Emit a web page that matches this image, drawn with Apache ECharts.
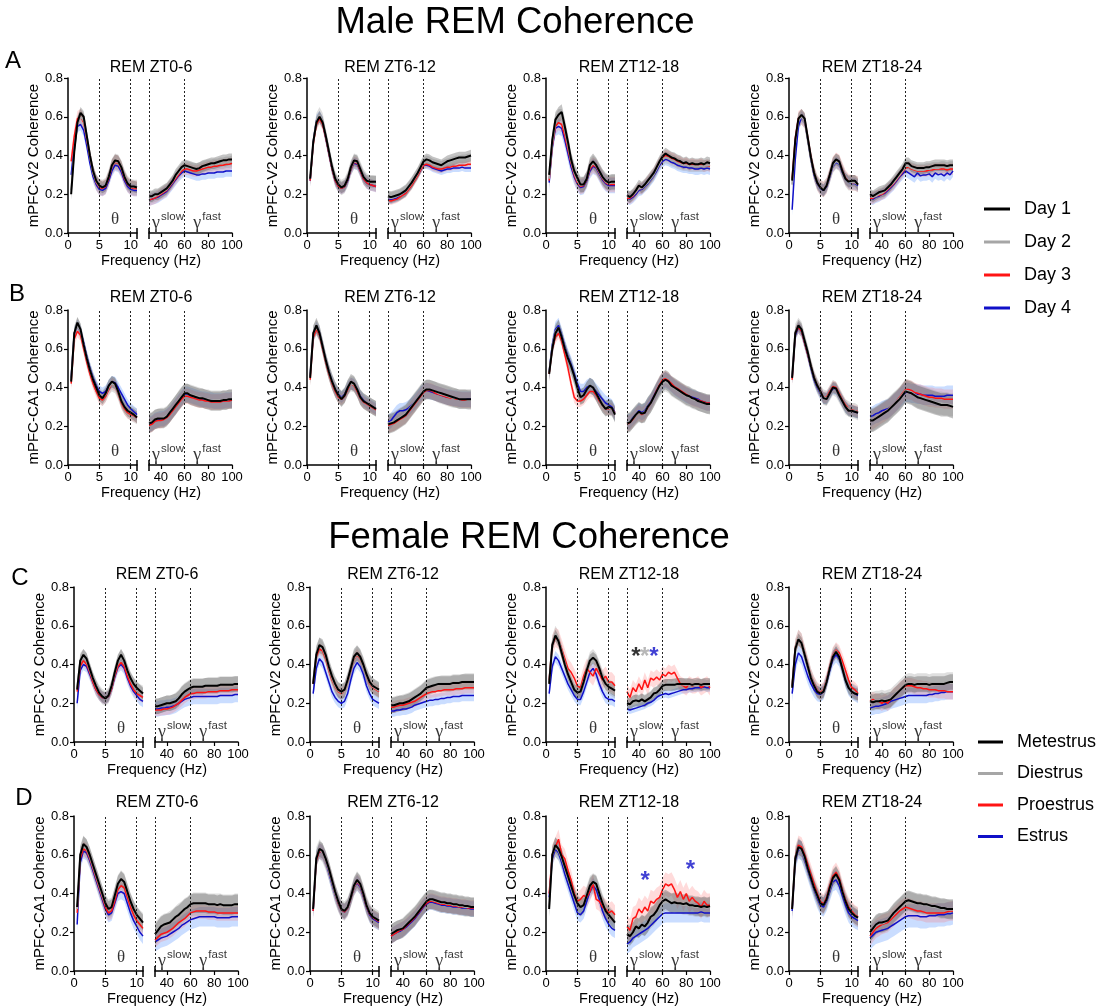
<!DOCTYPE html>
<html>
<head>
<meta charset="utf-8">
<script src="https://cdn.jsdelivr.net/npm/echarts@6/dist/echarts.min.js"></script>
<style>
  html, body { margin: 0; padding: 0; background: #ffffff; }
  #chart { width: 1097px; height: 1007px; }
</style>
</head>
<body>
<div id="chart"></div>
<script>
// ---- frequency bins (Hz) for the two axis segments ----
const FREQ_LOW = [0.5,1,1.5,2,2.5,3,3.5,4,4.5,5,5.5,6,6.5,7,7.5,8,8.5,9,9.5,10,10.5,11];
const FREQ_HIGH = [30,32.5,35,37.5,40,42.5,45,47.5,50,52.5,55,57.5,60,62.5,65,67.5,70,72.5,75,77.5,80,82.5,85,87.5,90,92.5,95,97.5,100];

const LOW_TICKS = [0, 5, 10];
const HIGH_TICKS = [40, 60, 80, 100];
const Y_TICK_STEP = 0.2;

const PANEL_TITLES = ['REM ZT0-6', 'REM ZT6-12', 'REM ZT12-18', 'REM ZT18-24'];
const ROW_LETTERS = ['A', 'B', 'C', 'D'];
const ROW_Y_NAMES = ['mPFC-V2 Coherence', 'mPFC-CA1 Coherence', 'mPFC-V2 Coherence', 'mPFC-CA1 Coherence'];
const MALE_GROUPS = ['Day 1', 'Day 2', 'Day 3', 'Day 4'];
const FEMALE_GROUPS = ['Metestrus', 'Diestrus', 'Proestrus', 'Estrus'];

// ---- A: male mPFC-V2 ----
const a1BlackLo = [0.20,0.42,0.57,0.62,0.60,0.50,0.40,0.32,0.27,0.245,0.235,0.245,0.29,0.35,0.375,0.37,0.34,0.29,0.255,0.24,0.24,0.235];
const a1GreyLo  = [0.22,0.43,0.56,0.60,0.58,0.49,0.39,0.31,0.265,0.24,0.235,0.245,0.29,0.345,0.37,0.365,0.335,0.29,0.255,0.24,0.235,0.235];
const a1RedLo   = [0.37,0.50,0.59,0.60,0.57,0.48,0.39,0.31,0.26,0.235,0.23,0.24,0.28,0.34,0.365,0.36,0.33,0.28,0.25,0.235,0.23,0.23];
const a1BlueLo  = [0.30,0.45,0.55,0.56,0.53,0.45,0.36,0.29,0.25,0.225,0.22,0.23,0.27,0.32,0.35,0.345,0.315,0.27,0.24,0.225,0.22,0.22];
const a1BlackHi = [0.19,0.19,0.20,0.20,0.21,0.22,0.23,0.25,0.27,0.30,0.32,0.34,0.35,0.345,0.34,0.335,0.33,0.335,0.345,0.35,0.355,0.36,0.36,0.365,0.37,0.375,0.375,0.38,0.38];
const a1GreyHi  = [0.18,0.185,0.19,0.195,0.205,0.215,0.225,0.245,0.265,0.29,0.31,0.33,0.34,0.34,0.335,0.33,0.33,0.335,0.34,0.345,0.35,0.35,0.355,0.355,0.36,0.36,0.365,0.365,0.37];
const a1RedHi   = [0.17,0.175,0.18,0.19,0.20,0.21,0.22,0.24,0.26,0.28,0.30,0.32,0.33,0.33,0.325,0.32,0.32,0.325,0.33,0.335,0.34,0.34,0.345,0.345,0.35,0.35,0.355,0.355,0.36];
const a1BlueHi  = [0.17,0.175,0.18,0.185,0.195,0.205,0.215,0.235,0.255,0.275,0.295,0.31,0.32,0.315,0.31,0.305,0.30,0.30,0.305,0.305,0.31,0.31,0.31,0.315,0.315,0.315,0.32,0.32,0.32];
const a1SemLo = [0.03,0.04,0.04,0.03];
const a1SemHi = [0.03,0.03,0.03,0.03];

const a2BlackLo = [0.28,0.47,0.57,0.60,0.57,0.50,0.42,0.34,0.28,0.25,0.235,0.245,0.28,0.34,0.375,0.37,0.33,0.29,0.27,0.265,0.265,0.265];
const a2GreyLo  = [0.28,0.47,0.58,0.61,0.58,0.50,0.42,0.34,0.28,0.25,0.235,0.245,0.28,0.335,0.37,0.365,0.33,0.29,0.27,0.26,0.26,0.255];
const a2RedLo   = [0.27,0.46,0.56,0.59,0.56,0.49,0.41,0.33,0.27,0.24,0.23,0.24,0.275,0.33,0.365,0.36,0.32,0.28,0.26,0.25,0.245,0.24];
const a2BlueLo  = [0.27,0.47,0.58,0.60,0.57,0.49,0.41,0.33,0.27,0.24,0.23,0.24,0.27,0.33,0.36,0.355,0.32,0.28,0.26,0.25,0.245,0.24];
const a2BlackHi = [0.19,0.185,0.19,0.195,0.20,0.21,0.22,0.24,0.26,0.285,0.31,0.34,0.37,0.38,0.375,0.365,0.36,0.355,0.35,0.36,0.37,0.375,0.38,0.385,0.39,0.39,0.39,0.395,0.40];
const a2GreyHi  = [0.185,0.18,0.185,0.19,0.195,0.205,0.215,0.235,0.255,0.28,0.305,0.335,0.36,0.37,0.365,0.355,0.35,0.345,0.34,0.35,0.355,0.36,0.365,0.37,0.37,0.375,0.375,0.38,0.38];
const a2RedHi   = [0.17,0.165,0.17,0.175,0.185,0.195,0.205,0.225,0.245,0.27,0.295,0.325,0.35,0.355,0.35,0.34,0.335,0.33,0.33,0.335,0.34,0.34,0.345,0.345,0.35,0.35,0.35,0.355,0.355];
const a2BlueHi  = [0.175,0.17,0.175,0.18,0.19,0.20,0.21,0.23,0.25,0.275,0.30,0.325,0.35,0.35,0.345,0.335,0.33,0.325,0.32,0.325,0.33,0.33,0.335,0.335,0.335,0.34,0.335,0.335,0.335];
const a2SemLo = [0.03,0.04,0.03,0.03];
const a2SemHi = [0.03,0.03,0.02,0.02];

const a3BlackLo = [0.30,0.48,0.585,0.61,0.625,0.55,0.47,0.38,0.32,0.285,0.25,0.25,0.28,0.35,0.37,0.35,0.32,0.29,0.27,0.26,0.265,0.265];
const a3GreyLo  = [0.28,0.46,0.57,0.60,0.60,0.53,0.45,0.37,0.31,0.27,0.245,0.25,0.28,0.34,0.36,0.345,0.315,0.285,0.265,0.255,0.26,0.26];
const a3RedLo   = [0.27,0.45,0.55,0.57,0.56,0.50,0.43,0.36,0.30,0.26,0.24,0.245,0.275,0.33,0.35,0.34,0.31,0.28,0.26,0.25,0.25,0.25];
const a3BlueLo  = [0.26,0.44,0.54,0.55,0.54,0.48,0.41,0.34,0.29,0.255,0.235,0.24,0.27,0.32,0.345,0.335,0.305,0.275,0.255,0.245,0.245,0.245];
const a3BlackHi = [0.195,0.185,0.20,0.22,0.245,0.235,0.25,0.27,0.29,0.31,0.34,0.37,0.395,0.41,0.40,0.39,0.385,0.375,0.37,0.36,0.365,0.355,0.36,0.355,0.355,0.36,0.355,0.365,0.36];
const a3GreyHi  = [0.19,0.185,0.195,0.21,0.23,0.23,0.245,0.26,0.28,0.30,0.33,0.36,0.38,0.39,0.385,0.375,0.37,0.36,0.355,0.35,0.35,0.345,0.345,0.345,0.345,0.345,0.345,0.35,0.35];
const a3RedHi   = [0.18,0.18,0.19,0.21,0.23,0.23,0.245,0.265,0.285,0.305,0.335,0.36,0.385,0.40,0.395,0.385,0.38,0.37,0.365,0.355,0.36,0.35,0.355,0.35,0.35,0.355,0.345,0.35,0.345];
const a3BlueHi  = [0.18,0.175,0.185,0.20,0.22,0.225,0.24,0.255,0.275,0.295,0.32,0.35,0.37,0.38,0.375,0.365,0.36,0.35,0.345,0.34,0.34,0.335,0.335,0.33,0.33,0.335,0.33,0.335,0.33];
const a3SemLo = [0.04,0.04,0.04,0.04];
const a3SemHi = [0.03,0.03,0.03,0.03];

const a4BlackLo = [0.27,0.48,0.59,0.61,0.59,0.49,0.39,0.31,0.26,0.235,0.22,0.245,0.30,0.36,0.38,0.37,0.32,0.28,0.265,0.27,0.27,0.25];
const a4GreyLo  = [0.25,0.47,0.58,0.60,0.58,0.48,0.38,0.31,0.26,0.235,0.225,0.245,0.295,0.35,0.37,0.36,0.32,0.28,0.26,0.26,0.26,0.25];
const a4RedLo   = [0.28,0.49,0.59,0.60,0.58,0.49,0.39,0.31,0.26,0.235,0.225,0.245,0.30,0.355,0.375,0.365,0.325,0.285,0.265,0.26,0.26,0.25];
const a4BlueLo  = [0.12,0.38,0.55,0.60,0.58,0.48,0.38,0.30,0.255,0.23,0.22,0.24,0.29,0.345,0.365,0.355,0.315,0.28,0.26,0.255,0.255,0.245];
const a4BlackHi = [0.20,0.19,0.20,0.21,0.215,0.22,0.235,0.25,0.27,0.29,0.31,0.33,0.36,0.36,0.345,0.34,0.335,0.335,0.335,0.34,0.34,0.345,0.35,0.35,0.35,0.35,0.345,0.35,0.35];
const a4GreyHi  = [0.19,0.185,0.19,0.20,0.205,0.215,0.23,0.245,0.26,0.28,0.30,0.32,0.345,0.345,0.335,0.33,0.325,0.325,0.325,0.33,0.33,0.335,0.335,0.335,0.34,0.34,0.335,0.34,0.34];
const a4RedHi   = [0.18,0.18,0.19,0.195,0.20,0.21,0.225,0.24,0.255,0.275,0.295,0.315,0.335,0.34,0.33,0.325,0.32,0.32,0.32,0.32,0.325,0.325,0.33,0.33,0.33,0.33,0.325,0.33,0.33];
const a4BlueHi  = [0.18,0.175,0.185,0.19,0.20,0.205,0.22,0.235,0.25,0.27,0.29,0.305,0.32,0.31,0.30,0.29,0.31,0.295,0.30,0.30,0.305,0.29,0.31,0.30,0.305,0.295,0.31,0.30,0.32];
const a4SemLo = [0.03,0.04,0.04,0.03];
const a4SemHi = [0.03,0.03,0.03,0.03];

// ---- B: male mPFC-CA1 ----
const b1BlackLo = [0.43,0.68,0.735,0.70,0.62,0.55,0.49,0.44,0.40,0.36,0.345,0.37,0.41,0.43,0.42,0.38,0.33,0.30,0.28,0.27,0.26,0.245];
const b1GreyLo  = [0.44,0.68,0.72,0.69,0.62,0.55,0.49,0.44,0.40,0.36,0.345,0.365,0.40,0.42,0.41,0.375,0.33,0.30,0.28,0.27,0.26,0.25];
const b1RedLo   = [0.42,0.65,0.69,0.67,0.60,0.53,0.47,0.42,0.38,0.345,0.335,0.355,0.39,0.42,0.41,0.37,0.32,0.29,0.27,0.26,0.255,0.245];
const b1BlueLo  = [0.45,0.68,0.72,0.69,0.63,0.56,0.50,0.45,0.41,0.38,0.37,0.38,0.41,0.43,0.425,0.40,0.37,0.34,0.31,0.29,0.275,0.26];
const b1BlackHi = [0.215,0.22,0.235,0.24,0.24,0.24,0.25,0.27,0.29,0.31,0.33,0.35,0.37,0.37,0.36,0.355,0.35,0.345,0.345,0.34,0.335,0.33,0.33,0.33,0.33,0.335,0.335,0.34,0.34];
const b1GreyHi  = [0.22,0.225,0.235,0.24,0.245,0.245,0.255,0.27,0.29,0.31,0.335,0.355,0.37,0.37,0.365,0.36,0.355,0.35,0.345,0.34,0.34,0.335,0.335,0.335,0.335,0.335,0.335,0.34,0.34];
const b1RedHi   = [0.205,0.21,0.225,0.23,0.23,0.235,0.245,0.26,0.28,0.30,0.32,0.34,0.355,0.355,0.35,0.345,0.34,0.335,0.335,0.33,0.33,0.325,0.325,0.325,0.325,0.33,0.33,0.33,0.335];
const b1BlueHi  = [0.21,0.215,0.23,0.235,0.24,0.24,0.25,0.265,0.285,0.305,0.325,0.345,0.365,0.365,0.36,0.355,0.35,0.345,0.34,0.34,0.335,0.335,0.33,0.33,0.33,0.33,0.335,0.335,0.335];
const b1SemLo = [0.03,0.04,0.03,0.03];
const b1SemHi = [0.05,0.05,0.04,0.04];

const b2BlackLo = [0.45,0.68,0.72,0.68,0.61,0.54,0.48,0.43,0.39,0.36,0.34,0.36,0.40,0.43,0.42,0.39,0.35,0.33,0.32,0.31,0.30,0.29];
const b2GreyLo  = [0.46,0.68,0.71,0.68,0.61,0.54,0.48,0.43,0.39,0.36,0.345,0.36,0.40,0.42,0.415,0.39,0.35,0.33,0.32,0.31,0.30,0.29];
const b2RedLo   = [0.44,0.66,0.70,0.67,0.60,0.53,0.47,0.42,0.38,0.35,0.34,0.355,0.39,0.42,0.41,0.38,0.345,0.325,0.315,0.305,0.295,0.285];
const b2BlueLo  = [0.46,0.67,0.71,0.68,0.61,0.54,0.48,0.43,0.39,0.365,0.35,0.365,0.40,0.42,0.415,0.39,0.355,0.335,0.32,0.31,0.30,0.29];
const b2BlackHi = [0.21,0.215,0.22,0.23,0.24,0.25,0.26,0.28,0.30,0.32,0.34,0.36,0.38,0.39,0.39,0.385,0.38,0.375,0.37,0.365,0.36,0.355,0.35,0.345,0.34,0.34,0.34,0.34,0.34];
const b2GreyHi  = [0.215,0.22,0.225,0.235,0.245,0.255,0.265,0.285,0.305,0.325,0.345,0.365,0.385,0.39,0.39,0.385,0.38,0.37,0.365,0.36,0.355,0.35,0.345,0.345,0.34,0.34,0.34,0.335,0.335];
const b2RedHi   = [0.205,0.21,0.215,0.225,0.235,0.245,0.255,0.275,0.295,0.315,0.335,0.355,0.375,0.385,0.385,0.38,0.37,0.365,0.36,0.355,0.35,0.345,0.345,0.34,0.34,0.335,0.335,0.335,0.335];
const b2BlueHi  = [0.22,0.23,0.25,0.27,0.28,0.28,0.285,0.295,0.31,0.325,0.345,0.365,0.38,0.385,0.38,0.375,0.37,0.365,0.36,0.355,0.35,0.35,0.345,0.345,0.34,0.34,0.34,0.34,0.34];
const b2SemLo = [0.04,0.04,0.03,0.03];
const b2SemHi = [0.05,0.05,0.04,0.04];

const b3BlackLo = [0.47,0.60,0.68,0.71,0.66,0.60,0.55,0.51,0.46,0.40,0.35,0.36,0.39,0.41,0.40,0.37,0.34,0.31,0.29,0.30,0.295,0.26];
const b3GreyLo  = [0.48,0.61,0.69,0.71,0.66,0.60,0.55,0.50,0.45,0.39,0.355,0.36,0.39,0.41,0.40,0.37,0.34,0.31,0.295,0.295,0.29,0.265];
const b3RedLo   = [0.47,0.60,0.66,0.68,0.64,0.57,0.50,0.42,0.35,0.33,0.33,0.34,0.36,0.38,0.38,0.36,0.33,0.31,0.29,0.29,0.29,0.27];
const b3BlueLo  = [0.48,0.62,0.70,0.72,0.67,0.61,0.56,0.52,0.47,0.42,0.38,0.38,0.40,0.41,0.40,0.38,0.36,0.34,0.32,0.31,0.30,0.27];
const b3BlackHi = [0.215,0.22,0.24,0.26,0.275,0.265,0.27,0.30,0.32,0.35,0.38,0.41,0.43,0.44,0.43,0.41,0.40,0.39,0.38,0.37,0.36,0.355,0.345,0.34,0.33,0.325,0.32,0.315,0.315];
const b3GreyHi  = [0.22,0.225,0.24,0.255,0.27,0.265,0.275,0.30,0.32,0.345,0.375,0.40,0.42,0.43,0.42,0.405,0.395,0.385,0.375,0.365,0.355,0.35,0.34,0.335,0.33,0.325,0.32,0.315,0.31];
const b3RedHi   = [0.21,0.22,0.235,0.255,0.27,0.26,0.27,0.295,0.32,0.35,0.385,0.415,0.44,0.445,0.435,0.42,0.405,0.395,0.385,0.375,0.365,0.355,0.345,0.34,0.335,0.33,0.325,0.32,0.32];
const b3BlueHi  = [0.22,0.225,0.245,0.26,0.28,0.27,0.28,0.305,0.325,0.355,0.385,0.41,0.43,0.44,0.43,0.415,0.40,0.39,0.38,0.37,0.36,0.355,0.35,0.345,0.34,0.33,0.325,0.32,0.32];
const b3SemLo = [0.04,0.04,0.03,0.04];
const b3SemHi = [0.05,0.05,0.04,0.04];

const b4BlackLo = [0.45,0.68,0.72,0.70,0.64,0.58,0.51,0.45,0.41,0.38,0.345,0.34,0.37,0.40,0.395,0.36,0.33,0.30,0.28,0.28,0.275,0.27];
const b4GreyLo  = [0.46,0.69,0.72,0.70,0.64,0.58,0.51,0.45,0.41,0.375,0.35,0.345,0.37,0.40,0.39,0.36,0.33,0.30,0.29,0.28,0.28,0.27];
const b4RedLo   = [0.44,0.68,0.71,0.69,0.63,0.57,0.51,0.45,0.41,0.38,0.35,0.35,0.38,0.405,0.40,0.37,0.335,0.31,0.29,0.285,0.28,0.275];
const b4BlueLo  = [0.45,0.67,0.71,0.69,0.63,0.57,0.50,0.44,0.40,0.37,0.345,0.345,0.37,0.395,0.39,0.36,0.33,0.30,0.285,0.28,0.275,0.27];
const b4BlackHi = [0.23,0.23,0.24,0.25,0.26,0.27,0.28,0.295,0.31,0.325,0.34,0.36,0.38,0.375,0.37,0.36,0.35,0.345,0.34,0.335,0.33,0.325,0.32,0.315,0.31,0.31,0.31,0.305,0.30];
const b4GreyHi  = [0.23,0.235,0.245,0.255,0.265,0.275,0.285,0.30,0.315,0.33,0.345,0.365,0.385,0.38,0.375,0.365,0.355,0.35,0.345,0.34,0.335,0.33,0.325,0.32,0.32,0.315,0.315,0.31,0.31];
const b4RedHi   = [0.23,0.235,0.245,0.255,0.265,0.275,0.285,0.30,0.315,0.33,0.35,0.37,0.39,0.39,0.385,0.375,0.37,0.365,0.36,0.355,0.35,0.35,0.345,0.345,0.345,0.34,0.34,0.34,0.34];
const b4BlueHi  = [0.25,0.255,0.265,0.27,0.28,0.285,0.29,0.30,0.315,0.33,0.345,0.36,0.375,0.375,0.37,0.37,0.365,0.365,0.36,0.36,0.36,0.36,0.355,0.355,0.355,0.355,0.36,0.36,0.36];
const b4SemLo = [0.03,0.04,0.03,0.03];
const b4SemHi = [0.06,0.06,0.05,0.05];

// ---- C: female mPFC-V2 ----
const c1BlackLo = [0.27,0.42,0.45,0.43,0.38,0.33,0.29,0.255,0.235,0.225,0.24,0.29,0.36,0.42,0.45,0.42,0.37,0.33,0.30,0.28,0.265,0.25];
const c1GreyLo  = [0.28,0.42,0.44,0.42,0.37,0.325,0.285,0.255,0.235,0.225,0.24,0.285,0.355,0.41,0.44,0.415,0.365,0.325,0.295,0.275,0.26,0.25];
const c1RedLo   = [0.26,0.39,0.42,0.40,0.36,0.31,0.27,0.245,0.23,0.225,0.235,0.275,0.34,0.39,0.41,0.39,0.34,0.30,0.27,0.25,0.24,0.23];
const c1BlueLo  = [0.20,0.37,0.40,0.39,0.35,0.31,0.27,0.245,0.23,0.225,0.235,0.275,0.335,0.385,0.40,0.38,0.33,0.29,0.26,0.24,0.22,0.21];
const c1BlackHi = [0.185,0.185,0.19,0.195,0.20,0.20,0.205,0.21,0.225,0.245,0.26,0.27,0.28,0.285,0.285,0.285,0.285,0.29,0.29,0.29,0.29,0.29,0.295,0.295,0.295,0.295,0.295,0.30,0.30];
const c1GreyHi  = [0.185,0.185,0.19,0.195,0.20,0.20,0.205,0.215,0.23,0.25,0.265,0.275,0.285,0.29,0.29,0.29,0.29,0.29,0.295,0.295,0.295,0.295,0.30,0.30,0.30,0.30,0.30,0.30,0.30];
const c1RedHi   = [0.165,0.165,0.165,0.17,0.17,0.175,0.18,0.19,0.20,0.215,0.23,0.24,0.25,0.25,0.255,0.255,0.255,0.255,0.26,0.26,0.26,0.26,0.265,0.265,0.265,0.265,0.27,0.27,0.27];
const c1BlueHi  = [0.17,0.17,0.175,0.175,0.18,0.18,0.185,0.19,0.20,0.21,0.22,0.225,0.23,0.235,0.235,0.235,0.235,0.235,0.235,0.235,0.235,0.235,0.24,0.24,0.24,0.24,0.24,0.245,0.245];
const c1SemLo = [0.03,0.04,0.03,0.03];
const c1SemHi = [0.04,0.04,0.03,0.04];

const c2BlackLo = [0.30,0.45,0.50,0.49,0.45,0.39,0.34,0.30,0.27,0.26,0.27,0.32,0.38,0.44,0.46,0.44,0.40,0.35,0.31,0.29,0.28,0.27];
const c2GreyLo  = [0.31,0.46,0.50,0.48,0.44,0.38,0.33,0.29,0.265,0.255,0.265,0.31,0.375,0.43,0.455,0.435,0.39,0.34,0.305,0.285,0.275,0.265];
const c2RedLo   = [0.30,0.44,0.48,0.47,0.43,0.37,0.32,0.285,0.26,0.25,0.265,0.31,0.37,0.425,0.45,0.43,0.39,0.34,0.30,0.28,0.27,0.26];
const c2BlueLo  = [0.25,0.38,0.43,0.41,0.36,0.31,0.26,0.23,0.21,0.20,0.21,0.25,0.32,0.38,0.41,0.39,0.35,0.29,0.25,0.22,0.21,0.20];
const c2BlackHi = [0.19,0.19,0.195,0.20,0.20,0.205,0.21,0.22,0.23,0.24,0.25,0.265,0.28,0.285,0.29,0.295,0.30,0.30,0.30,0.30,0.30,0.305,0.305,0.305,0.31,0.31,0.31,0.31,0.31];
const c2GreyHi  = [0.19,0.195,0.20,0.20,0.205,0.21,0.215,0.225,0.235,0.245,0.255,0.27,0.285,0.29,0.295,0.30,0.30,0.305,0.305,0.305,0.305,0.31,0.31,0.31,0.31,0.315,0.315,0.315,0.315];
const c2RedHi   = [0.18,0.18,0.185,0.19,0.19,0.195,0.20,0.205,0.21,0.22,0.23,0.24,0.25,0.255,0.26,0.26,0.265,0.265,0.27,0.27,0.27,0.27,0.275,0.275,0.275,0.28,0.28,0.28,0.28];
const c2BlueHi  = [0.16,0.16,0.165,0.165,0.17,0.17,0.175,0.18,0.19,0.195,0.20,0.205,0.21,0.215,0.215,0.22,0.22,0.225,0.225,0.23,0.23,0.235,0.235,0.235,0.24,0.24,0.24,0.24,0.24];
const c2SemLo = [0.04,0.04,0.03,0.03];
const c2SemHi = [0.04,0.04,0.03,0.03];

const c3BlackLo = [0.30,0.50,0.55,0.52,0.46,0.40,0.35,0.31,0.27,0.255,0.26,0.31,0.37,0.42,0.435,0.42,0.38,0.33,0.30,0.285,0.275,0.265];
const c3GreyLo  = [0.31,0.51,0.56,0.53,0.47,0.41,0.355,0.31,0.275,0.26,0.265,0.315,0.375,0.425,0.44,0.42,0.38,0.335,0.30,0.285,0.275,0.265];
const c3RedLo   = [0.32,0.50,0.54,0.53,0.48,0.43,0.38,0.36,0.33,0.29,0.28,0.34,0.38,0.36,0.34,0.38,0.35,0.32,0.34,0.31,0.31,0.29];
const c3BlueLo  = [0.25,0.39,0.44,0.42,0.38,0.34,0.30,0.27,0.24,0.22,0.22,0.26,0.31,0.36,0.38,0.35,0.30,0.26,0.23,0.22,0.22,0.21];
const c3BlackHi = [0.20,0.195,0.21,0.215,0.21,0.22,0.21,0.22,0.23,0.25,0.255,0.27,0.29,0.295,0.295,0.295,0.295,0.30,0.30,0.30,0.30,0.30,0.295,0.30,0.30,0.295,0.30,0.30,0.30];
const c3GreyHi  = [0.20,0.20,0.21,0.215,0.215,0.22,0.215,0.225,0.235,0.25,0.26,0.275,0.29,0.295,0.295,0.295,0.30,0.30,0.30,0.295,0.295,0.295,0.295,0.29,0.295,0.295,0.295,0.29,0.295];
const c3RedHi   = [0.26,0.23,0.28,0.26,0.30,0.27,0.32,0.28,0.33,0.32,0.335,0.32,0.35,0.34,0.36,0.35,0.36,0.33,0.30,0.29,0.28,0.30,0.29,0.29,0.30,0.28,0.29,0.30,0.28];
const c3BlueHi  = [0.17,0.165,0.17,0.175,0.18,0.185,0.19,0.20,0.205,0.215,0.23,0.24,0.245,0.25,0.245,0.25,0.255,0.26,0.265,0.27,0.27,0.275,0.275,0.28,0.28,0.28,0.285,0.28,0.28];
const c3SemLo = [0.03,0.04,0.05,0.03];
const c3SemHi = [0.03,0.03,0.04,0.02];

const c4BlackLo = [0.28,0.48,0.53,0.51,0.45,0.39,0.33,0.29,0.26,0.25,0.26,0.31,0.38,0.44,0.465,0.44,0.38,0.32,0.28,0.26,0.25,0.245];
const c4GreyLo  = [0.29,0.49,0.54,0.52,0.46,0.40,0.34,0.295,0.265,0.25,0.265,0.315,0.385,0.445,0.47,0.445,0.385,0.325,0.285,0.265,0.255,0.245];
const c4RedLo   = [0.29,0.49,0.54,0.52,0.46,0.40,0.34,0.30,0.27,0.255,0.27,0.32,0.39,0.45,0.475,0.46,0.42,0.37,0.32,0.28,0.27,0.25];
const c4BlueLo  = [0.25,0.40,0.46,0.44,0.39,0.34,0.30,0.27,0.25,0.245,0.26,0.31,0.37,0.43,0.45,0.43,0.38,0.32,0.28,0.26,0.25,0.24];
const c4BlackHi = [0.21,0.205,0.21,0.21,0.215,0.21,0.215,0.22,0.235,0.25,0.265,0.28,0.295,0.30,0.30,0.295,0.30,0.30,0.30,0.30,0.295,0.30,0.30,0.30,0.30,0.30,0.305,0.31,0.31];
const c4GreyHi  = [0.21,0.21,0.215,0.215,0.22,0.215,0.22,0.225,0.24,0.255,0.27,0.285,0.30,0.305,0.305,0.30,0.305,0.305,0.305,0.305,0.30,0.305,0.305,0.305,0.305,0.305,0.31,0.31,0.31];
const c4RedHi   = [0.21,0.22,0.21,0.21,0.20,0.21,0.20,0.22,0.24,0.25,0.27,0.28,0.29,0.29,0.29,0.285,0.28,0.28,0.275,0.275,0.27,0.27,0.27,0.265,0.265,0.265,0.26,0.26,0.26];
const c4BlueHi  = [0.175,0.18,0.185,0.185,0.19,0.195,0.20,0.21,0.215,0.22,0.225,0.23,0.235,0.24,0.24,0.24,0.24,0.24,0.24,0.24,0.245,0.245,0.25,0.25,0.255,0.255,0.26,0.26,0.26];
const c4SemLo = [0.03,0.04,0.04,0.04];
const c4SemHi = [0.04,0.05,0.04,0.04];

// ---- D: female mPFC-CA1 ----
const d1BlackLo = [0.33,0.60,0.655,0.64,0.60,0.55,0.50,0.45,0.40,0.35,0.32,0.33,0.39,0.45,0.475,0.46,0.41,0.36,0.32,0.29,0.27,0.25];
const d1GreyLo  = [0.32,0.60,0.65,0.63,0.59,0.54,0.49,0.44,0.39,0.345,0.32,0.33,0.385,0.445,0.47,0.455,0.405,0.355,0.315,0.285,0.265,0.25];
const d1RedLo   = [0.30,0.58,0.63,0.62,0.58,0.53,0.48,0.43,0.38,0.33,0.30,0.31,0.36,0.42,0.44,0.43,0.38,0.33,0.29,0.26,0.24,0.22];
const d1BlueLo  = [0.24,0.56,0.62,0.61,0.57,0.52,0.47,0.42,0.37,0.32,0.29,0.30,0.35,0.40,0.41,0.40,0.35,0.30,0.26,0.23,0.20,0.18];
const d1BlackHi = [0.19,0.21,0.23,0.24,0.245,0.25,0.265,0.28,0.29,0.305,0.32,0.33,0.345,0.35,0.35,0.35,0.35,0.35,0.345,0.345,0.345,0.34,0.345,0.34,0.34,0.34,0.34,0.345,0.345];
const d1GreyHi  = [0.19,0.21,0.225,0.235,0.24,0.25,0.26,0.275,0.29,0.30,0.315,0.325,0.34,0.345,0.345,0.345,0.345,0.345,0.34,0.34,0.34,0.34,0.34,0.335,0.335,0.335,0.335,0.34,0.34];
const d1RedHi   = [0.16,0.175,0.19,0.195,0.20,0.21,0.22,0.235,0.25,0.26,0.27,0.285,0.30,0.305,0.31,0.31,0.31,0.31,0.305,0.305,0.305,0.30,0.30,0.30,0.30,0.30,0.30,0.30,0.30];
const d1BlueHi  = [0.15,0.16,0.17,0.175,0.18,0.19,0.20,0.21,0.22,0.235,0.245,0.255,0.265,0.27,0.275,0.28,0.28,0.28,0.28,0.28,0.28,0.275,0.275,0.275,0.275,0.275,0.28,0.28,0.28];
const d1SemLo = [0.04,0.05,0.04,0.04];
const d1SemHi = [0.05,0.06,0.04,0.05];

const d2BlackLo = [0.32,0.58,0.63,0.62,0.58,0.53,0.47,0.41,0.36,0.32,0.31,0.33,0.38,0.44,0.47,0.45,0.40,0.34,0.30,0.28,0.27,0.26];
const d2GreyLo  = [0.33,0.59,0.63,0.61,0.57,0.52,0.46,0.40,0.355,0.32,0.31,0.33,0.38,0.435,0.465,0.445,0.395,0.34,0.30,0.28,0.27,0.26];
const d2RedLo   = [0.31,0.57,0.62,0.61,0.57,0.52,0.46,0.40,0.35,0.315,0.305,0.325,0.375,0.43,0.46,0.44,0.39,0.335,0.295,0.275,0.265,0.255];
const d2BlueLo  = [0.31,0.58,0.62,0.61,0.57,0.51,0.45,0.395,0.35,0.315,0.305,0.325,0.375,0.43,0.455,0.435,0.385,0.33,0.29,0.27,0.26,0.25];
const d2BlackHi = [0.19,0.20,0.21,0.215,0.22,0.235,0.25,0.265,0.28,0.30,0.32,0.34,0.36,0.37,0.37,0.365,0.36,0.355,0.355,0.35,0.35,0.345,0.345,0.34,0.34,0.335,0.335,0.33,0.33];
const d2GreyHi  = [0.19,0.20,0.21,0.215,0.225,0.24,0.255,0.27,0.285,0.305,0.325,0.345,0.36,0.37,0.365,0.36,0.355,0.35,0.35,0.345,0.345,0.34,0.34,0.335,0.335,0.33,0.33,0.33,0.33];
const d2RedHi   = [0.18,0.19,0.20,0.21,0.215,0.23,0.245,0.26,0.275,0.295,0.315,0.335,0.35,0.36,0.36,0.355,0.35,0.345,0.345,0.34,0.34,0.335,0.335,0.33,0.33,0.33,0.325,0.325,0.325];
const d2BlueHi  = [0.18,0.19,0.20,0.205,0.215,0.225,0.24,0.255,0.27,0.29,0.31,0.33,0.345,0.355,0.355,0.35,0.345,0.34,0.34,0.335,0.335,0.33,0.33,0.33,0.325,0.325,0.325,0.32,0.32];
const d2SemLo = [0.04,0.05,0.04,0.04];
const d2SemHi = [0.05,0.05,0.04,0.04];

const d3BlackLo = [0.32,0.60,0.65,0.63,0.59,0.54,0.49,0.44,0.39,0.35,0.33,0.34,0.39,0.44,0.46,0.45,0.40,0.35,0.31,0.29,0.27,0.25];
const d3GreyLo  = [0.33,0.60,0.64,0.62,0.58,0.53,0.48,0.43,0.385,0.345,0.33,0.34,0.39,0.44,0.455,0.445,0.40,0.35,0.31,0.29,0.27,0.255];
const d3RedLo   = [0.40,0.60,0.64,0.68,0.60,0.58,0.52,0.47,0.40,0.36,0.37,0.39,0.38,0.41,0.45,0.37,0.36,0.33,0.32,0.30,0.31,0.29];
const d3BlueLo  = [0.38,0.58,0.63,0.61,0.56,0.50,0.45,0.40,0.35,0.30,0.29,0.31,0.36,0.41,0.44,0.42,0.37,0.31,0.27,0.24,0.22,0.21];
const d3BlackHi = [0.19,0.18,0.20,0.23,0.22,0.24,0.23,0.25,0.28,0.29,0.31,0.34,0.36,0.37,0.36,0.35,0.355,0.35,0.35,0.345,0.35,0.34,0.34,0.335,0.335,0.33,0.335,0.33,0.335];
const d3GreyHi  = [0.19,0.19,0.20,0.22,0.225,0.235,0.235,0.25,0.27,0.285,0.305,0.33,0.35,0.36,0.355,0.35,0.35,0.345,0.345,0.34,0.34,0.335,0.335,0.33,0.33,0.33,0.33,0.325,0.33];
const d3RedHi   = [0.23,0.21,0.27,0.28,0.32,0.30,0.33,0.31,0.36,0.35,0.37,0.38,0.42,0.45,0.44,0.45,0.42,0.38,0.41,0.37,0.40,0.36,0.38,0.36,0.35,0.33,0.36,0.34,0.34];
const d3BlueHi  = [0.14,0.15,0.17,0.18,0.19,0.20,0.21,0.22,0.235,0.25,0.265,0.28,0.295,0.30,0.30,0.30,0.30,0.30,0.30,0.30,0.30,0.30,0.30,0.30,0.30,0.305,0.30,0.30,0.30];
const d3SemLo = [0.04,0.05,0.05,0.04];
const d3SemHi = [0.05,0.05,0.06,0.05];

const d4BlackLo = [0.32,0.58,0.64,0.63,0.59,0.53,0.48,0.43,0.39,0.35,0.34,0.37,0.43,0.48,0.50,0.47,0.41,0.36,0.32,0.30,0.285,0.275];
const d4GreyLo  = [0.33,0.59,0.64,0.62,0.58,0.53,0.48,0.43,0.385,0.35,0.34,0.37,0.42,0.475,0.495,0.465,0.41,0.36,0.32,0.30,0.285,0.275];
const d4RedLo   = [0.32,0.59,0.65,0.64,0.60,0.55,0.50,0.45,0.40,0.36,0.345,0.38,0.44,0.49,0.51,0.48,0.42,0.37,0.33,0.31,0.29,0.28];
const d4BlueLo  = [0.31,0.57,0.63,0.62,0.57,0.52,0.47,0.42,0.375,0.34,0.33,0.36,0.41,0.46,0.47,0.44,0.39,0.34,0.30,0.28,0.27,0.26];
const d4BlackHi = [0.20,0.22,0.24,0.25,0.25,0.255,0.26,0.28,0.30,0.315,0.33,0.345,0.36,0.365,0.36,0.355,0.35,0.35,0.345,0.345,0.34,0.335,0.335,0.33,0.325,0.325,0.32,0.32,0.32];
const d4GreyHi  = [0.20,0.215,0.235,0.245,0.245,0.25,0.26,0.275,0.295,0.31,0.325,0.34,0.355,0.36,0.355,0.35,0.345,0.345,0.34,0.34,0.335,0.33,0.33,0.325,0.32,0.32,0.32,0.315,0.315];
const d4RedHi   = [0.18,0.20,0.22,0.23,0.24,0.245,0.25,0.265,0.28,0.295,0.31,0.32,0.33,0.325,0.32,0.315,0.31,0.31,0.305,0.30,0.30,0.30,0.30,0.30,0.30,0.30,0.305,0.31,0.31];
const d4BlueHi  = [0.17,0.185,0.20,0.205,0.21,0.215,0.22,0.23,0.24,0.25,0.26,0.27,0.28,0.285,0.285,0.285,0.285,0.28,0.28,0.28,0.285,0.285,0.285,0.29,0.29,0.29,0.295,0.295,0.30];
const d4SemLo = [0.04,0.05,0.05,0.05];
const d4SemHi = [0.05,0.05,0.05,0.06];

// significance markers: [frequency, coherence] and colour index
const C3_STARS = [[37.6, 0.435], [44.9, 0.435], [52.7, 0.435]];
const C3_STAR_GROUPS = [0, 1, 3];
const D3_STARS = [[45.4, 0.462], [83.5, 0.517]];
const D3_STAR_GROUPS = [3, 3];

// band annotations
const THETA_LABEL_AT = [7.5, 0.068];
const GAMMA_SLOW_AT = [46, 0.052];
const GAMMA_FAST_AT = [79, 0.052];

// ---------------------------------------------------------------------
const panels = [
  { row: 0, col: 0, lo: [a1BlackLo, a1GreyLo, a1RedLo, a1BlueLo], hi: [a1BlackHi, a1GreyHi, a1RedHi, a1BlueHi], semLo: a1SemLo, semHi: a1SemHi },
  { row: 0, col: 1, lo: [a2BlackLo, a2GreyLo, a2RedLo, a2BlueLo], hi: [a2BlackHi, a2GreyHi, a2RedHi, a2BlueHi], semLo: a2SemLo, semHi: a2SemHi },
  { row: 0, col: 2, lo: [a3BlackLo, a3GreyLo, a3RedLo, a3BlueLo], hi: [a3BlackHi, a3GreyHi, a3RedHi, a3BlueHi], semLo: a3SemLo, semHi: a3SemHi },
  { row: 0, col: 3, lo: [a4BlackLo, a4GreyLo, a4RedLo, a4BlueLo], hi: [a4BlackHi, a4GreyHi, a4RedHi, a4BlueHi], semLo: a4SemLo, semHi: a4SemHi },
  { row: 1, col: 0, lo: [b1BlackLo, b1GreyLo, b1RedLo, b1BlueLo], hi: [b1BlackHi, b1GreyHi, b1RedHi, b1BlueHi], semLo: b1SemLo, semHi: b1SemHi },
  { row: 1, col: 1, lo: [b2BlackLo, b2GreyLo, b2RedLo, b2BlueLo], hi: [b2BlackHi, b2GreyHi, b2RedHi, b2BlueHi], semLo: b2SemLo, semHi: b2SemHi },
  { row: 1, col: 2, lo: [b3BlackLo, b3GreyLo, b3RedLo, b3BlueLo], hi: [b3BlackHi, b3GreyHi, b3RedHi, b3BlueHi], semLo: b3SemLo, semHi: b3SemHi },
  { row: 1, col: 3, lo: [b4BlackLo, b4GreyLo, b4RedLo, b4BlueLo], hi: [b4BlackHi, b4GreyHi, b4RedHi, b4BlueHi], semLo: b4SemLo, semHi: b4SemHi },
  { row: 2, col: 0, lo: [c1BlackLo, c1GreyLo, c1RedLo, c1BlueLo], hi: [c1BlackHi, c1GreyHi, c1RedHi, c1BlueHi], semLo: c1SemLo, semHi: c1SemHi },
  { row: 2, col: 1, lo: [c2BlackLo, c2GreyLo, c2RedLo, c2BlueLo], hi: [c2BlackHi, c2GreyHi, c2RedHi, c2BlueHi], semLo: c2SemLo, semHi: c2SemHi },
  { row: 2, col: 2, lo: [c3BlackLo, c3GreyLo, c3RedLo, c3BlueLo], hi: [c3BlackHi, c3GreyHi, c3RedHi, c3BlueHi], semLo: c3SemLo, semHi: c3SemHi, stars: C3_STARS, starGroups: C3_STAR_GROUPS },
  { row: 2, col: 3, lo: [c4BlackLo, c4GreyLo, c4RedLo, c4BlueLo], hi: [c4BlackHi, c4GreyHi, c4RedHi, c4BlueHi], semLo: c4SemLo, semHi: c4SemHi },
  { row: 3, col: 0, lo: [d1BlackLo, d1GreyLo, d1RedLo, d1BlueLo], hi: [d1BlackHi, d1GreyHi, d1RedHi, d1BlueHi], semLo: d1SemLo, semHi: d1SemHi },
  { row: 3, col: 1, lo: [d2BlackLo, d2GreyLo, d2RedLo, d2BlueLo], hi: [d2BlackHi, d2GreyHi, d2RedHi, d2BlueHi], semLo: d2SemLo, semHi: d2SemHi },
  { row: 3, col: 2, lo: [d3BlackLo, d3GreyLo, d3RedLo, d3BlueLo], hi: [d3BlackHi, d3GreyHi, d3RedHi, d3BlueHi], semLo: d3SemLo, semHi: d3SemHi, stars: D3_STARS, starGroups: D3_STAR_GROUPS },
  { row: 3, col: 3, lo: [d4BlackLo, d4GreyLo, d4RedLo, d4BlueLo], hi: [d4BlackHi, d4GreyHi, d4RedHi, d4BlueHi], semLo: d4SemLo, semHi: d4SemHi }
];

// ---- layout ----
const SANS = '"Liberation Sans", Arial, sans-serif';
const SERIF = '"Liberation Serif", "DejaVu Serif", serif';
const GRID_TOP = [78, 310, 587, 816];
const GRID_H = 155;
const COL_X = [[68, 307, 546, 789], [68, 307, 546, 789], [74, 310, 546, 789], [74, 310, 546, 789]];
const LO_W = 69, HI_OFF = 81, HI_W = 83;
const TITLE_Y = [68, 298, 575, 803];
const LETTER_POS = [[13, 61], [17, 294], [20, 578], [24, 798]];

const LINE_COLORS = ['#000000', '#a6a6a6', '#ff1414', '#1010c8'];
const BAND_COLORS = ['rgba(60,60,60,0.30)', 'rgba(150,150,150,0.30)', 'rgba(255,105,105,0.24)', 'rgba(90,150,255,0.32)'];
const LINE_WIDTHS = [2, 1.8, 1.5, 1.5];
const DRAW_ORDER = [3, 2, 1, 0];

const grid = [], xAxis = [], yAxis = [], series = [], graphic = [];

function bandSeries(gi, freqs, vals, sem, fill) {
  const n = Math.min(freqs.length, vals.length);
  const data = [];
  for (let i = 0; i < n; i++) data.push([freqs[i], vals[i] - sem, vals[i] + sem]);
  return {
    type: 'custom', xAxisIndex: gi, yAxisIndex: gi, silent: true, z: 1,
    data,
    renderItem(params, api) {
      if (params.dataIndex !== 0) return null;
      const upper = data.map(d => api.coord([d[0], d[2]]));
      const lower = data.map(d => api.coord([d[0], d[1]])).reverse();
      return { type: 'polygon', shape: { points: upper.concat(lower) }, style: { fill } };
    }
  };
}

function breakMark(gi, at) {
  return {
    type: 'custom', xAxisIndex: gi, yAxisIndex: gi, silent: true, z: 6, clip: false,
    data: [[at, 0]],
    renderItem(params, api) {
      const p = api.coord([api.value(0), api.value(1)]);
      return { type: 'line', shape: { x1: p[0], y1: p[1] - 5, x2: p[0], y2: p[1] + 6 },
               style: { stroke: '#000', lineWidth: 1.5 } };
    }
  };
}

function labelSeries(gi, items) {
  return {
    type: 'scatter', xAxisIndex: gi, yAxisIndex: gi, silent: true, symbolSize: 0, z: 7,
    data: items.map(it => ({ value: it.at, label: it.label })),
    label: { show: true, position: 'inside', color: '#000' }
  };
}

panels.forEach(p => {
  const left = COL_X[p.row][p.col];
  const top = GRID_TOP[p.row];
  const names = p.row < 2 ? MALE_GROUPS : FEMALE_GROUPS;

  [0, 1].forEach(seg => {
    const gi = grid.length;
    grid.push({ left: seg ? left + HI_OFF : left, top, width: seg ? HI_W : LO_W, height: GRID_H });
    const ticks = seg ? HIGH_TICKS : LOW_TICKS;
    xAxis.push({
      gridIndex: gi, type: 'value', min: seg ? 30 : 0, max: seg ? 100 : 11,
      axisLine: { show: true, onZero: false, lineStyle: { color: '#000', width: 1.5 } },
      axisTick: { show: true, length: 4, customValues: ticks, lineStyle: { color: '#000', width: 1.2 } },
      axisLabel: { customValues: ticks, color: '#000', fontSize: 13, fontFamily: SANS, margin: 6 },
      splitLine: { show: false }
    });
    yAxis.push({
      gridIndex: gi, type: 'value', min: 0, max: 0.8, interval: Y_TICK_STEP, show: seg === 0,
      axisLine: { show: true, lineStyle: { color: '#000', width: 1.5 } },
      axisTick: { show: true, length: 4, lineStyle: { color: '#000', width: 1.2 } },
      axisLabel: { color: '#000', fontSize: 13, fontFamily: SANS, margin: 5, formatter: v => v.toFixed(1) },
      splitLine: { show: false },
      name: seg === 0 ? ROW_Y_NAMES[p.row] : '',
      nameLocation: 'middle', nameGap: 21,
      nameTextStyle: { color: '#000', fontSize: 15, fontFamily: SANS }
    });

    const freqs = seg ? FREQ_HIGH : FREQ_LOW;
    const vals = seg ? p.hi : p.lo;
    const sem = seg ? p.semHi : p.semLo;

    DRAW_ORDER.forEach(k => series.push(bandSeries(gi, freqs, vals[k], sem[k], BAND_COLORS[k])));
    DRAW_ORDER.forEach(k => {
      const n = Math.min(freqs.length, vals[k].length);
      const data = [];
      for (let i = 0; i < n; i++) data.push([freqs[i], vals[k][i]]);
      const s = {
        type: 'line', name: names[k], xAxisIndex: gi, yAxisIndex: gi, data,
        showSymbol: false, symbol: 'none', silent: true, z: 3 + (3 - k) * 0.1,
        color: LINE_COLORS[k],
        lineStyle: { color: LINE_COLORS[k], width: LINE_WIDTHS[k] }
      };
      if (k === 0) {
        s.markLine = {
          silent: true, symbol: 'none', label: { show: false }, animation: false,
          lineStyle: { type: [2, 2], color: '#222', width: 1 },
          data: seg ? [{ xAxis: 30 }, { xAxis: 60 }] : [{ xAxis: 5 }, { xAxis: 10 }]
        };
      }
      series.push(s);
    });

    series.push(breakMark(gi, seg ? 30 : 11));

    if (seg === 0) {
      series.push(labelSeries(gi, [
        { at: THETA_LABEL_AT, label: { formatter: 'θ', fontFamily: SERIF, fontSize: 17 } }
      ]));
    } else {
      const rich = {
        g: { fontFamily: SERIF, fontSize: 18, color: '#000' },
        s: { fontFamily: SANS, fontSize: 11.5, color: '#000', padding: [0, 0, 13, 1] }
      };
      series.push(labelSeries(gi, [
        { at: GAMMA_SLOW_AT, label: { formatter: '{g|γ}{s|slow}', rich } },
        { at: GAMMA_FAST_AT, label: { formatter: '{g|γ}{s|fast}', rich } }
      ]));
      if (p.stars) {
        series.push({
          type: 'scatter', xAxisIndex: gi, yAxisIndex: gi, silent: true, symbolSize: 0, z: 8,
          data: p.stars.map((pt, i) => ({
            value: pt,
            label: { color: LINE_COLORS[p.starGroups[i]] }
          })),
          label: { show: true, position: 'inside', formatter: '*', fontSize: 24, fontWeight: 'bold', fontFamily: SANS }
        });
      }
    }
  });

  const cx = left + 83;
  graphic.push({ type: 'text', silent: true, x: cx, y: TITLE_Y[p.row],
    style: { text: PANEL_TITLES[p.col], font: '16px ' + SANS, fill: '#000', align: 'center', verticalAlign: 'middle' } });
  graphic.push({ type: 'text', silent: true, x: cx, y: top + GRID_H + 28,
    style: { text: 'Frequency (Hz)', font: '14.5px ' + SANS, fill: '#000', align: 'center', verticalAlign: 'middle' } });
});

graphic.push({ type: 'text', silent: true, x: 515, y: 23,
  style: { text: 'Male REM Coherence', font: '36.5px ' + SANS, fill: '#000', align: 'center', verticalAlign: 'middle' } });
graphic.push({ type: 'text', silent: true, x: 529, y: 538,
  style: { text: 'Female REM Coherence', font: '36.5px ' + SANS, fill: '#000', align: 'center', verticalAlign: 'middle' } });
ROW_LETTERS.forEach((t, r) => {
  graphic.push({ type: 'text', silent: true, x: LETTER_POS[r][0], y: LETTER_POS[r][1],
    style: { text: t, font: '24px ' + SANS, fill: '#000', align: 'center', verticalAlign: 'middle' } });
});

const legendBase = {
  orient: 'vertical', icon: 'rect', itemWidth: 26, itemHeight: 3,
  selectedMode: false,
  textStyle: { fontSize: 18, color: '#000', fontFamily: SANS, lineHeight: 20, padding: [0, 0, 0, 9] }
};

const option = {
  animation: false,
  backgroundColor: '#ffffff',
  textStyle: { fontFamily: SANS },
  legend: [
    Object.assign({}, legendBase, { data: MALE_GROUPS, left: 979, top: 194, itemGap: 13 }),
    Object.assign({}, legendBase, { data: FEMALE_GROUPS, left: 973, top: 727, itemGap: 11.5, itemWidth: 25 })
  ],
  grid, xAxis, yAxis, series, graphic
};

const chart = echarts.init(document.getElementById('chart'), null, { renderer: 'canvas' });
chart.setOption(option);
</script>
</body>
</html>
